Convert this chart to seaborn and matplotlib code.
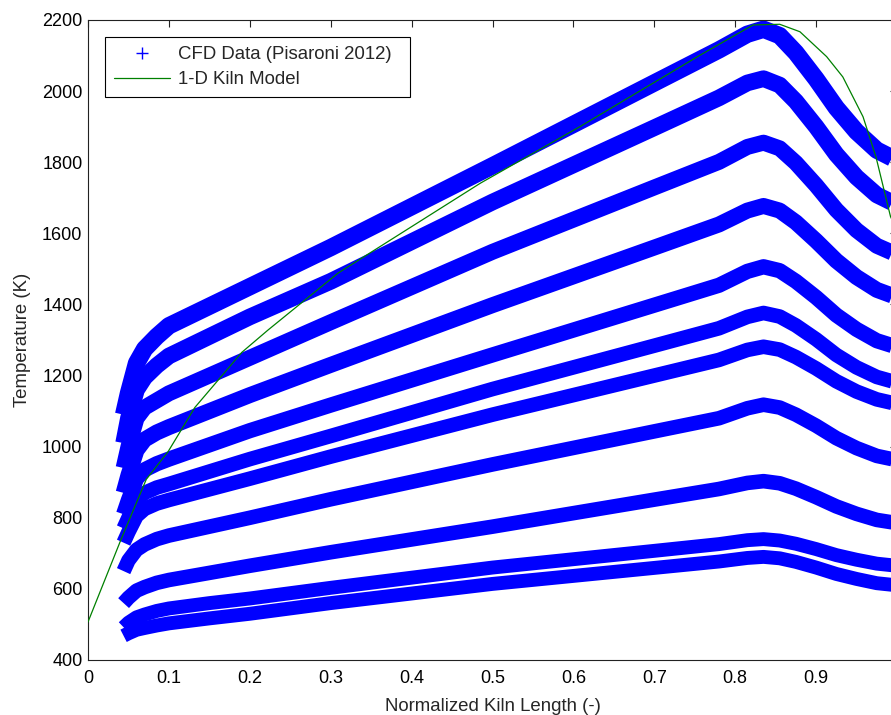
import matplotlib
matplotlib.use("Agg")
import matplotlib.pyplot as plt
import seaborn as sns
import pandas as pd
from matplotlib.lines import Line2D

# ---------------- data ----------------
cfd_x = [0.044, 0.05, 0.06, 0.07, 0.085, 0.1, 0.15, 0.2, 0.3, 0.5, 0.7,
         0.78, 0.815, 0.835, 0.855, 0.875, 0.9, 0.925, 0.95, 0.975, 1.0]

cfd_T_01 = [1090, 1150, 1235, 1275, 1310, 1340, 1395, 1450, 1560, 1790, 2023,
            2116, 2160, 2174, 2156, 2108, 2034, 1953, 1886, 1834, 1805]
cfd_T_02 = [1010, 1080, 1160, 1195, 1228, 1255, 1310, 1365, 1465, 1688, 1897,
            1981, 2023, 2035, 2017, 1971, 1900, 1822, 1758, 1708, 1680]
cfd_T_03 = [940, 1000, 1080, 1110, 1130, 1150, 1200, 1250, 1350, 1548, 1729,
            1801, 1843, 1855, 1839, 1798, 1735, 1666, 1609, 1565, 1540]
cfd_T_04 = [870, 920, 990, 1020, 1040, 1055, 1100, 1145, 1230, 1398, 1560,
            1625, 1664, 1677, 1664, 1631, 1579, 1523, 1477, 1441, 1420]
cfd_T_05 = [810, 850, 910, 935, 952, 965, 1005, 1045, 1117, 1258, 1398,
            1454, 1493, 1506, 1495, 1465, 1420, 1370, 1330, 1298, 1280]
cfd_T_06 = [770, 800, 850, 870, 885, 895, 930, 965, 1030, 1162, 1284,
            1333, 1365, 1376, 1366, 1341, 1302, 1258, 1223, 1196, 1180]
cfd_T_07 = [730, 760, 805, 825, 840, 850, 880, 910, 972, 1090, 1200,
            1244, 1272, 1281, 1273, 1252, 1220, 1184, 1155, 1133, 1120]
cfd_T_08 = [650, 680, 710, 725, 740, 750, 775, 800, 852, 950, 1043,
            1080, 1108, 1118, 1110, 1090, 1059, 1024, 996, 974, 962]
cfd_T_09 = [560, 575, 595, 605, 617, 625, 645, 665, 703, 775, 851,
            881, 898, 903, 897, 882, 858, 832, 811, 794, 785]
cfd_T_10 = [492, 505, 520, 528, 538, 545, 560, 573, 603, 660, 707,
            726, 737, 740, 736, 727, 712, 695, 682, 671, 665]
cfd_T_11 = [468, 475, 485, 490, 497, 503, 517, 530, 560, 614, 659,
            677, 687, 690, 686, 676, 660, 642, 628, 616, 610]

model_x = [0.0, 0.041, 0.072, 0.099, 0.132, 0.19, 0.2225, 0.309, 0.485, 0.608,
           0.7565, 0.822, 0.855, 0.88, 0.913, 0.933, 0.958, 0.974, 0.992, 1.0]
model_T = [507, 740, 908, 986, 1110, 1265, 1328, 1488, 1741, 1900,
           2101, 2186, 2188, 2167, 2097, 2040, 1928, 1815, 1647, 1610]

x_ticks = [0, 0.1, 0.2, 0.3, 0.4, 0.5, 0.6, 0.7, 0.8, 0.9]
x_tick_labels = ["0", "0.1", "0.2", "0.3", "0.4", "0.5", "0.6", "0.7", "0.8", "0.9"]
y_ticks = [400, 600, 800, 1000, 1200, 1400, 1600, 1800, 2000, 2200]

legend_labels = ["CFD Data (Pisaroni 2012)", "1-D Kiln Model"]
x_label = "Normalized Kiln Length (-)"
y_label = "Temperature (K)"

# ---------------- styling ----------------
sns.set_style("white")
plt.rcParams['font.family'] = ['Liberation Sans', 'DejaVu Sans']

fig = plt.figure(figsize=(8.91, 7.15), dpi=100)
ax = fig.add_axes([88 / 891, 55 / 715, 809 / 891, 640 / 715])

bands = [cfd_T_01, cfd_T_02, cfd_T_03, cfd_T_04, cfd_T_05, cfd_T_06,
         cfd_T_07, cfd_T_08, cfd_T_09, cfd_T_10, cfd_T_11]
band_widths = [12.5, 12.0, 11.5, 11.5, 11.0, 10.5, 10.5, 10.5, 10.5, 10.0, 10.0]

for T, w in zip(bands, band_widths):
    df = pd.DataFrame({"x": cfd_x, "T": T})
    sns.lineplot(data=df, x="x", y="T", ax=ax, color="#0000ff", lw=w,
                 estimator=None, sort=False, solid_capstyle="butt",
                 solid_joinstyle="round", zorder=2)

model_df = pd.DataFrame({"x": model_x, "T": model_T})
sns.lineplot(data=model_df, x="x", y="T", ax=ax, color="#008000", lw=0.9,
             estimator=None, sort=False, zorder=3)

ax.set_xlim(0, 1)
ax.set_ylim(400, 2200)
ax.set_xticks(x_ticks)
ax.set_xticklabels(x_tick_labels)
ax.set_yticks(y_ticks)
ax.set_yticklabels([str(v) for v in y_ticks])

for s in ax.spines.values():
    s.set_visible(True)
    s.set_color("#222222")
    s.set_linewidth(0.8)

ax.tick_params(direction="in", length=5, width=0.8, colors="#222222",
               top=True, right=True, labelsize=13, labelcolor="black")
ax.tick_params(axis="x", pad=7)
ax.tick_params(axis="y", pad=4)

ax.set_xlabel(x_label, fontsize=13.4, labelpad=8)
ax.set_ylabel(y_label, fontsize=13.4, labelpad=8)

handles = [
    Line2D([], [], color="#0000ff", marker="+", linestyle="none",
           markersize=9, markeredgewidth=1.0),
    Line2D([], [], color="#008000", lw=0.9),
]
leg = ax.legend(handles, legend_labels, loc="upper left",
                bbox_to_anchor=(17 / 809, 0.5, 305 / 809, 1 - 17 / 640 - 0.5),
                mode="expand", borderaxespad=0,
                fontsize=13.4, frameon=True, fancybox=False, framealpha=1,
                edgecolor="black", handlelength=3.0, handletextpad=0.4,
                borderpad=0.5, labelspacing=0.42)
leg.get_frame().set_linewidth(0.8)

fig.savefig("out.png", dpi=100)
